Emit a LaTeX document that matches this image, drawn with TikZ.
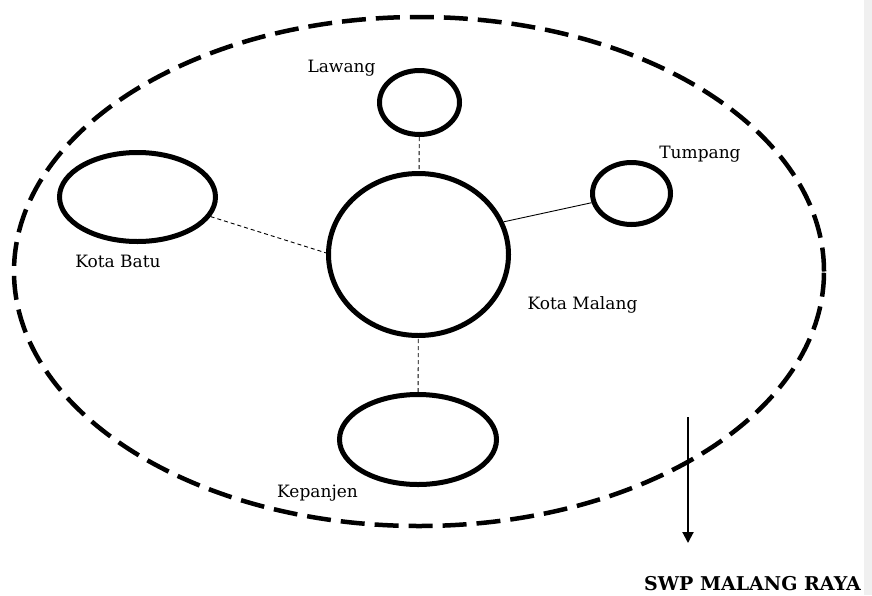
\documentclass[tikz,border=0pt]{standalone}
\usepackage{fontspec}
\setmainfont{DejaVu Serif}
\usetikzlibrary{shapes.geometric,arrows.meta}
\begin{document}
\begin{tikzpicture}
		[x=1pt,y=-1pt,
		place/.style={ellipse,draw,line width=5pt,inner sep=0pt},
		region/.style={ellipse,draw,line width=4.5pt,inner sep=0pt,
dash pattern=on 24pt off 10pt},
		textstyle/.style={inner sep=0pt,anchor=base,font=\fontsize{17}{20}\selectfont},
		titlestyle/.style={inner sep=0pt,anchor=base,font=\bfseries\fontsize{19}{22}\selectfont},
		edgestyle/.style={-,line width=0.9pt,dash pattern=on 4pt off 3pt}]
		\useasboundingbox (0,0) rectangle (872,595);
		\fill[black!6] (864,0) rectangle (872,595);
		\node at (419,271.5) (swp) [region,minimum width=810pt,minimum height=509pt] {};
		\node at (418.5,254.5) (malang) [place,minimum width=180pt,minimum height=162pt] {};
		\node at (419.5,102.5) (lawang) [place,minimum width=80pt,minimum height=64pt] {}
			edge [edgestyle] (malang);
		\node at (631.5,193.5) (tumpang) [place,minimum width=78pt,minimum height=62pt] {};
		\node at (137.5,197) (batu) [place,minimum width=156pt,minimum height=89pt] {};
		\node at (418,439.5) (kepanjen) [place,minimum width=157pt,minimum height=90pt] {}
			edge [edgestyle] (malang);
		\draw [edgestyle] (batu.-15) -- (malang.179);
		\draw [-,line width=0.9pt] (tumpang.193) -- (malang.21.6);
		% arrow to the title
		\coordinate (top) at (688,417);
		\coordinate (tip) at (688,543);
		\draw [-{Triangle[width=11pt,length=11pt]},line width=2pt] (top) -- (tip);
		\node at (341.5,72) (tlawang) [textstyle] {Lawang};
		\node at (700,158) (ttumpang) [textstyle] {Tumpang};
		\node at (582.5,309) (tmalang) [textstyle] {Kota Malang};
		\node at (118,267) (tbatu) [textstyle] {Kota Batu};
		\node at (317.5,497) (tkepanjen) [textstyle] {Kepanjen};
		\node at (752.5,590) (title) [titlestyle] {SWP MALANG RAYA};
	\end{tikzpicture}
\end{document}
